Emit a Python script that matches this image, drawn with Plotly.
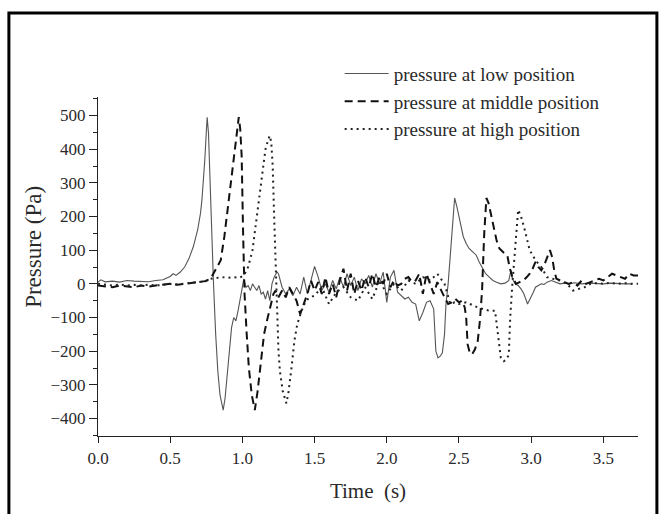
import plotly.graph_objects as go

# ---- data ----
t_low = [0.00, 0.02, 0.05, 0.10, 0.15, 0.20, 0.25, 0.30, 0.35, 0.40, 0.45, 0.48, 0.50, 0.52, 0.54,
         0.57, 0.60, 0.63, 0.66, 0.69, 0.71, 0.72, 0.73, 0.74, 0.75, 0.756, 0.765, 0.775, 0.785,
         0.80, 0.815, 0.83, 0.845, 0.867, 0.88, 0.896, 0.91, 0.925, 0.94, 0.955, 0.97, 0.985, 1.00,
         1.01, 1.025, 1.04, 1.055, 1.07, 1.085, 1.10, 1.115, 1.13, 1.145, 1.16, 1.175, 1.19, 1.205,
         1.22, 1.24,
         1.250, 1.275, 1.300, 1.325, 1.350, 1.375, 1.400, 1.425, 1.450, 1.475, 1.500, 1.525, 1.550,
         1.575, 1.600, 1.625, 1.650, 1.675, 1.700, 1.725, 1.750, 1.775, 1.800, 1.825, 1.850, 1.875,
         1.900, 1.925, 1.950, 1.975, 2.000, 2.025, 2.050, 2.075, 2.100, 2.125, 2.150, 2.175, 2.200,
         2.225, 2.250, 2.275, 2.300, 2.325, 2.340, 2.355, 2.370, 2.385, 2.400, 2.410, 2.425, 2.440,
         2.450, 2.460, 2.470, 2.485, 2.500, 2.515, 2.530, 2.550, 2.570, 2.595, 2.620, 2.640, 2.660,
         2.685, 2.710, 2.735, 2.760, 2.790, 2.820, 2.845, 2.860, 2.870, 2.890, 2.910, 2.930, 2.950,
         2.975, 3.000, 3.015, 3.030, 3.050, 3.070, 3.090, 3.110, 3.140, 3.170, 3.200, 3.230, 3.260,
         3.300, 3.350, 3.400, 3.450, 3.500, 3.550, 3.600, 3.650, 3.700, 3.740]
p_low = [5, 12, 6, 8, 5, 10, 8, 8, 6, 10, 12, 18, 22, 30, 25,
         35, 50, 75, 110, 160, 210, 250, 300, 370, 450, 495, 450, 300, 150,
         0, -150, -260, -330, -375, -340, -260, -180, -130, -100, -110, -80, -40, 0,
         15, -10, -5, -20, 0, -10, -20, -5, -30, -25, -45, -20, -50, 0,
         20, 35,
         30, -10, -30, -15, -35, -10, -30, 20, -30, 10, 52, 20, -20,
         0, -25, 10, -15, 20, -10, 30, -5, 20, -20, 15, 0, 25,
         -10, 30, 0, 35, -55, 20, 40, -25, -35, -45, -40, -55, -60,
         -110, -85, -55, -50, -75, -200, -220, -215, -205, -150, -60, 0, 80,
         150, 210, 255, 230, 200, 170, 140, 120, 105, 95, 85, 65, 50,
         30, 20, 10, 5, 0, 2, 10, 40, 15, 0, -5, -15,
         -30, -60, -40, -25, -10, -5, 0, -2, 5, 10, 5, 0, 2,
         0, 3, 0, 2, 0, 0, 2, 0, 0, 0]

t_mid = [0.00, 0.05, 0.10, 0.15, 0.20, 0.25, 0.30, 0.35, 0.40, 0.45, 0.50, 0.55, 0.60, 0.65, 0.70,
         0.74, 0.78, 0.80, 0.82, 0.85, 0.875, 0.90, 0.925, 0.95, 0.965, 0.975, 0.985, 0.995, 1.005,
         1.015, 1.03, 1.045, 1.065, 1.086, 1.105, 1.12, 1.135, 1.15, 1.17, 1.185, 1.20, 1.215, 1.23,
         1.250, 1.275, 1.300, 1.325, 1.350, 1.375, 1.400, 1.425,
         1.450, 1.475, 1.500, 1.525, 1.550, 1.575, 1.600, 1.625, 1.650, 1.675, 1.700, 1.725, 1.750,
         1.775, 1.800, 1.825, 1.850, 1.875, 1.900, 1.925, 1.950, 1.975, 2.000, 2.025, 2.050, 2.075,
         2.100, 2.125, 2.150, 2.175, 2.200, 2.225, 2.250, 2.275, 2.300, 2.325, 2.350, 2.375, 2.400,
         2.425, 2.450, 2.475, 2.500, 2.520, 2.540, 2.550, 2.560, 2.575, 2.590, 2.610, 2.630, 2.645,
         2.660, 2.675, 2.690, 2.705, 2.720, 2.740, 2.760, 2.780, 2.800, 2.820, 2.835, 2.850, 2.870,
         2.895, 2.920, 2.945, 2.970, 2.990, 3.010, 3.030, 3.050, 3.070, 3.090, 3.110, 3.130, 3.145,
         3.160, 3.175, 3.200, 3.230, 3.260, 3.290, 3.320, 3.350, 3.380, 3.410, 3.440, 3.470, 3.500,
         3.530, 3.560, 3.590, 3.620, 3.650, 3.680, 3.710, 3.740]
p_mid = [-5, -8, -10, -5, -8, -10, -5, -8, -5, -2, 0, -3, 0, 2, 5,
         8, 15, 30, 45, 70, 140, 230, 320, 420, 470, 495, 460, 380, 150,
         -30, -150, -250, -330, -375, -320, -260, -200, -150, -110, -80, -50, -30, -20,
         -40, -20, -40, -10, -30, -50, -90, -60,
         -30, 10, -20, 5, -30, 20, -30, 0, -40, 10, 45, -20, 30,
         -30, 10, -20, 20, -10, 30, -10, 20, 0, 30, -10, 10, -5,
         0, 15, 20, 5, 10, 30, -30, 30, 0, -30, 5, -20, -40,
         -60, -55, -45, -55, -50, -70, -100, -180, -205, -210, -195, -170, -110,
         -20, 150, 255, 240, 210, 170, 130, 105, 95, 88, 85, 50, 20,
         0, 5, 10, 20, 30, 45, 65, 50, 40, 55, 75, 100, 80,
         40, 15, 10, 5, 0, 5, -5, 10, 0, 5, 10, 15, 10,
         20, 30, 25, 20, 15, 30, 25, 25]

t_high = [0.00, 0.05, 0.10, 0.15, 0.20, 0.25, 0.30, 0.35, 0.40, 0.45, 0.50, 0.55, 0.60, 0.65, 0.70,
          0.75, 0.78, 0.82, 0.86, 0.90, 0.94, 0.98, 1.01, 1.04, 1.07, 1.10, 1.13, 1.16, 1.18, 1.19,
          1.20, 1.21, 1.22, 1.23, 1.24, 1.25, 1.26, 1.28, 1.305, 1.32, 1.34, 1.36, 1.38, 1.41, 1.44,
          1.47, 1.50, 1.55, 1.60, 1.65, 1.70, 1.75, 1.80, 1.85, 1.90, 1.95, 2.00, 2.05, 2.10, 2.15,
          2.20, 2.25, 2.30, 2.35, 2.40, 2.42, 2.44, 2.47, 2.50, 2.55, 2.60, 2.63, 2.67, 2.71, 2.75,
          2.77, 2.79, 2.81, 2.83, 2.845, 2.855, 2.87, 2.89, 2.91, 2.93, 2.95, 2.99, 3.03, 3.07, 3.11,
          3.15, 3.20, 3.25, 3.29, 3.33, 3.37, 3.41, 3.45, 3.50, 3.55, 3.60, 3.65, 3.70, 3.74]
p_high = [0, -3, -5, -2, -5, -3, -5, -2, -5, -3, 0, -2, 0, 3, 5,
          8, 15, 18, 20, 18, 20, 18, 25, 50, 100, 200, 300, 400, 430, 440,
          420, 350, 200, 50, -100, -200, -260, -320, -355, -320, -250, -170, -120, -80, -50,
          -40, -35, -10, -60, -25, -10, -40, -50, -10, -45, 10, -30, 0, -20, 10,
          0, 20, 10, 30, 0, -30, -60, -55, -60, -55, -65, -70, -75, -80, -80,
          -150, -220, -230, -225, -210, -100, 0, 100, 220, 200, 170, 100, 70, 50, 20,
          15, 10, 0, -20, -15, -10, 0, 2, 0, 3, 0, 2, 0, 0]

series_names = ["pressure at low position",
                "pressure at middle position",
                "pressure at high position"]

xtick_vals = [0.0, 0.5, 1.0, 1.5, 2.0, 2.5, 3.0, 3.5]
ytick_vals = [-400, -300, -200, -100, 0, 100, 200, 300, 400, 500]
x_title = "Time  (s)"
y_title = "Pressure (Pa)"

FONT = "Liberation Serif"
TXT = "#2a2a2a"

fig = go.Figure()
fig.add_trace(go.Scatter(x=t_low, y=p_low, mode="lines", name=series_names[0],
                         line=dict(color="#555555", width=1.1), legendgroup="a"))
fig.add_trace(go.Scatter(x=t_mid, y=p_mid, mode="lines", name=series_names[1],
                         line=dict(color="#111111", width=2, dash="8px,5px"), legendgroup="b"))
fig.add_trace(go.Scatter(x=t_high, y=p_high, mode="lines", name=series_names[2],
                         line=dict(color="#222222", width=2, dash="2px,4px"), legendgroup="c"))

fig.update_layout(
    width=660, height=514,
    margin=dict(l=98, r=22, t=97, b=78),
    paper_bgcolor="white", plot_bgcolor="white",
    font=dict(family=FONT, size=16, color=TXT),
    showlegend=True,
    legend=dict(x=0.4475, y=1.125, xanchor="left", yanchor="top",
                font=dict(family=FONT, size=19, color=TXT),
                bgcolor="rgba(0,0,0,0)", tracegroupgap=0, itemwidth=44),
    xaxis=dict(range=[0, 3.74], tickvals=xtick_vals, tickformat=".1f",
               ticks="outside", ticklen=6, tickcolor="#222", showline=True,
               linecolor="#222", linewidth=1.2, showgrid=False, zeroline=False,
               title=dict(text=x_title, font=dict(family=FONT, size=21, color=TXT), standoff=16),
               tickfont=dict(family=FONT, size=17, color=TXT)),
    yaxis=dict(range=[-452, 555], tickvals=ytick_vals,
               ticks="outside", ticklen=8, tickcolor="#222", showline=True,
               linecolor="#222", linewidth=1.2, showgrid=False, zeroline=False,
               minor=dict(dtick=50, tick0=0, ticks="outside", ticklen=4, tickcolor="#222"),
               tickfont=dict(family=FONT, size=17, color=TXT)),
    annotations=[dict(text=y_title, xref="paper", yref="paper", x=-0.1185, y=0.558,
                      xanchor="center", yanchor="middle", textangle=-90, showarrow=False,
                      font=dict(family=FONT, size=23, color=TXT))],
    shapes=[dict(type="rect", xref="paper", yref="paper",
                 x0=-0.165, x1=1.035, y0=-0.26, y1=1.248,
                 line=dict(color="black", width=3), layer="above")],
)

fig.write_html("out.html")
